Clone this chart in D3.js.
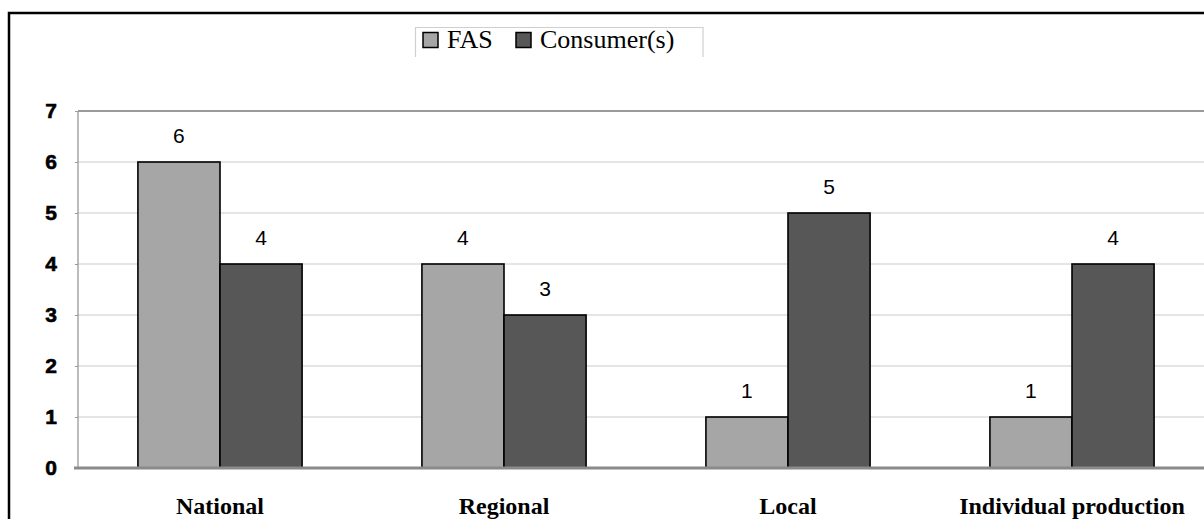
<!DOCTYPE html>
<html>
<head>
<meta charset="utf-8">
<script src="https://cdn.jsdelivr.net/npm/d3@7"></script>
<style>
  html, body { margin: 0; padding: 0; background: #fff; }
  svg { display: block; }
</style>
</head>
<body>
<svg id="chart" width="1204" height="519"></svg>
<script>
// Source of supply by level
const categories = ["National", "Regional", "Local", "Individual production"];
const seriesNames = ["FAS", "Consumer(s)"];
const fasValues = [6, 4, 1, 1];
const consumerValues = [4, 3, 5, 4];
const yTicks = [0, 1, 2, 3, 4, 5, 6, 7];
const colors = ["#a6a6a6", "#575757"];

const svg = d3.select("#chart");
const W = 1204, H = 519;

// outer frame (right and bottom edges fall outside the view)
svg.append("path")
  .attr("d", `M9,${H + 5}V13H${W + 5}`)
  .attr("fill", "none")
  .attr("stroke", "#000")
  .attr("stroke-width", 2.5);

const plot = { left: 78, right: 1214, top: 111, bottom: 468 };

const x = d3.scaleBand().domain(categories).range([plot.left, plot.right]).paddingInner(0).paddingOuter(0);
const xs = d3.scaleBand().domain(seriesNames).range([0, x.bandwidth()]).paddingInner(0).paddingOuter(0.73);
const y = d3.scaleLinear().domain([0, 7]).range([plot.bottom, plot.top]);

// gridlines
svg.append("g")
  .selectAll("line")
  .data(yTicks.filter(d => d > 0))
  .join("line")
  .attr("x1", plot.left).attr("x2", plot.right)
  .attr("y1", d => y(d)).attr("y2", d => y(d))
  .attr("stroke", d => d === 7 ? "#9a9a9a" : "#cccccc")
  .attr("stroke-width", d => d === 7 ? 2 : 1.2);

// y axis line
svg.append("line")
  .attr("x1", plot.left).attr("x2", plot.left)
  .attr("y1", plot.top).attr("y2", plot.bottom)
  .attr("stroke", "#a0a0a0").attr("stroke-width", 1.4);

// y tick labels
const yAxis = d3.axisLeft(y).tickValues(yTicks).tickSize(3).tickPadding(18).tickFormat(d3.format("d"));
const yg = svg.append("g").attr("transform", `translate(${plot.left},0)`).call(yAxis);
yg.select(".domain").remove();
yg.selectAll(".tick line").attr("stroke", "#999");
yg.selectAll(".tick text")
  .attr("font-family", "Liberation Sans, Arial, sans-serif")
  .attr("font-weight", "bold")
  .attr("font-size", 21)
  .attr("stroke", "#000")
  .attr("stroke-width", 0.6)
  .attr("fill", "#000");

const rows = categories.map((c, i) => ({ cat: c, values: [fasValues[i], consumerValues[i]] }));

const groups = svg.append("g").selectAll("g")
  .data(rows)
  .join("g")
  .attr("transform", d => `translate(${x(d.cat)},0)`);

const bars = groups.selectAll("g.bar")
  .data(d => d.values.map((v, j) => ({ name: seriesNames[j], value: v, j })))
  .join("g").attr("class", "bar");

bars.append("rect")
  .attr("x", d => xs(d.name))
  .attr("y", d => y(d.value))
  .attr("width", xs.bandwidth())
  .attr("height", d => y(0) - y(d.value))
  .attr("fill", d => colors[d.j])
  .attr("stroke", "#000")
  .attr("stroke-width", 1.6);

bars.append("text")
  .attr("x", d => xs(d.name) + xs.bandwidth() / 2)
  .attr("y", d => y(d.value) - 19)
  .attr("text-anchor", "middle")
  .attr("font-family", "Liberation Sans, Arial, sans-serif")
  .attr("font-size", 21)
  .attr("fill", "#000")
  .text(d => d.value);

// baseline
svg.append("line")
  .attr("x1", plot.left - 4).attr("x2", plot.right)
  .attr("y1", y(0)).attr("y2", y(0))
  .attr("stroke", "#8a8a8a").attr("stroke-width", 3);

// category labels
svg.append("g").selectAll("text")
  .data(categories)
  .join("text")
  .attr("x", d => x(d) + x.bandwidth() / 2)
  .attr("y", 514)
  .attr("text-anchor", "middle")
  .attr("font-family", "Liberation Serif, 'Times New Roman', serif")
  .attr("font-weight", "bold")
  .attr("font-size", 24)
  .attr("fill", "#000")
  .text(d => d);

// legend
const lg = svg.append("g").attr("transform", "translate(415,27)");
lg.append("path")
  .attr("d", "M0.5,30V0.5H288V30")
  .attr("fill", "none")
  .attr("stroke", "#cfcfcf")
  .attr("stroke-width", 1.2);
const lx = [8, 101];
const items = lg.selectAll("g.item").data(seriesNames).join("g")
  .attr("class", "item")
  .attr("transform", (d, i) => `translate(${lx[i]},0)`);
items.append("rect")
  .attr("x", 0).attr("y", 5.5).attr("width", 15).attr("height", 15)
  .attr("fill", (d, i) => colors[i])
  .attr("stroke", "#000").attr("stroke-width", 1.5);
items.append("text")
  .attr("x", 24).attr("y", 21)
  .attr("font-family", "Liberation Serif, 'Times New Roman', serif")
  .attr("font-size", 26)
  .attr("fill", "#000")
  .text(d => d);
</script>
</body>
</html>
